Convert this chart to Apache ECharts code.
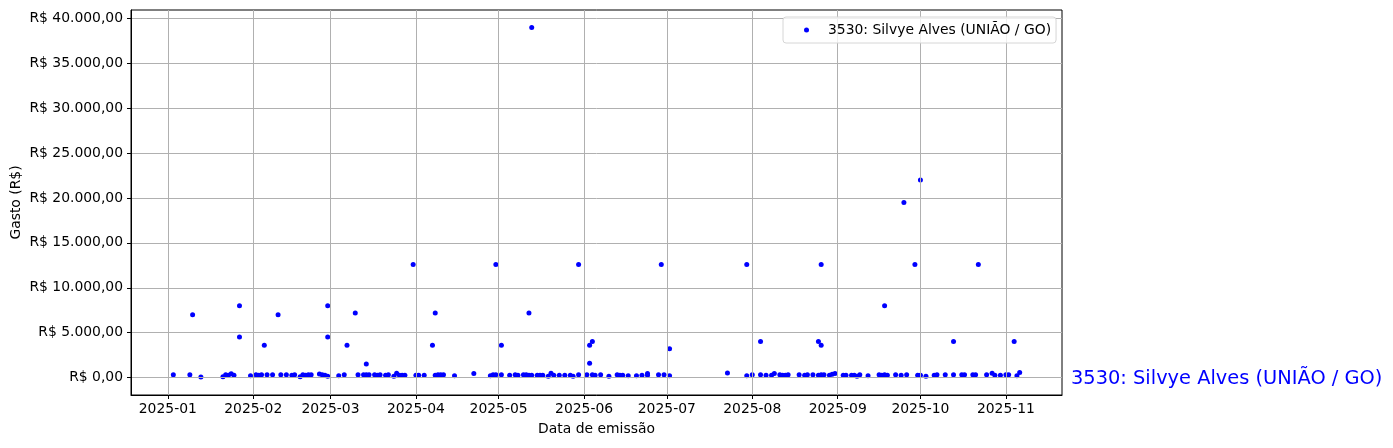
<!DOCTYPE html>
<html>
<head>
<meta charset="utf-8">
<script src="https://cdn.jsdelivr.net/npm/echarts@6/dist/echarts.min.js"></script>
<style>
html,body{margin:0;padding:0;background:#fff;}
#chart{width:1393px;height:448px;}
</style>
</head>
<body>
<div id="chart"></div>
<script>
const seriesName = '3530: Silvye Alves (UNIÃO / GO)';
const emissionDates = [
'2025-01-03','2025-01-09','2025-01-10','2025-01-13','2025-01-21','2025-01-22','2025-01-23','2025-01-24','2025-01-25','2025-01-27','2025-01-27','2025-01-31',
'2025-02-02','2025-02-03','2025-02-04','2025-02-05','2025-02-06','2025-02-08','2025-02-10','2025-02-11','2025-02-13','2025-02-15','2025-02-16','2025-02-18','2025-02-19','2025-02-20','2025-02-21','2025-02-22','2025-02-25','2025-02-26','2025-02-27','2025-02-28','2025-02-28','2025-02-28',
'2025-03-04','2025-03-06','2025-03-07','2025-03-10','2025-03-11','2025-03-13','2025-03-14','2025-03-14','2025-03-15','2025-03-17','2025-03-18','2025-03-19','2025-03-21','2025-03-22','2025-03-24','2025-03-25','2025-03-26','2025-03-27','2025-03-28','2025-03-31',
'2025-04-01','2025-04-02','2025-04-04','2025-04-07','2025-04-08','2025-04-08','2025-04-09','2025-04-10','2025-04-11','2025-04-15','2025-04-22','2025-04-28','2025-04-29','2025-04-30','2025-04-30',
'2025-05-02','2025-05-02','2025-05-05','2025-05-07','2025-05-08','2025-05-10','2025-05-11','2025-05-12','2025-05-12','2025-05-13','2025-05-13','2025-05-15','2025-05-16','2025-05-17','2025-05-19','2025-05-20','2025-05-21','2025-05-23','2025-05-25','2025-05-27','2025-05-28','2025-05-30','2025-05-30',
'2025-06-02','2025-06-03','2025-06-03','2025-06-04','2025-06-04','2025-06-05','2025-06-07','2025-06-10','2025-06-13','2025-06-14','2025-06-15','2025-06-17','2025-06-20','2025-06-22','2025-06-24','2025-06-24','2025-06-28','2025-06-29','2025-06-30',
'2025-07-02','2025-07-02','2025-07-23','2025-07-30','2025-07-30',
'2025-08-01','2025-08-04','2025-08-04','2025-08-06','2025-08-08','2025-08-09','2025-08-11','2025-08-12','2025-08-13','2025-08-14','2025-08-18','2025-08-20','2025-08-21','2025-08-23','2025-08-25','2025-08-25','2025-08-26','2025-08-26','2025-08-26','2025-08-27','2025-08-29','2025-08-30','2025-08-31',
'2025-09-03','2025-09-04','2025-09-06','2025-09-07','2025-09-08','2025-09-09','2025-09-12','2025-09-16','2025-09-17','2025-09-18','2025-09-18','2025-09-19','2025-09-22','2025-09-24','2025-09-25','2025-09-26','2025-09-29','2025-09-30',
'2025-10-01','2025-10-01','2025-10-03','2025-10-06','2025-10-07','2025-10-10','2025-10-13','2025-10-13','2025-10-16','2025-10-17','2025-10-20','2025-10-21','2025-10-22','2025-10-25','2025-10-27','2025-10-28','2025-10-30',
'2025-11-01','2025-11-02','2025-11-04','2025-11-05','2025-11-06'
];
const amounts = [
300,300,7000,60,80,300,250,420,250,8000,4500,200,
300,250,300,3600,300,300,7000,300,300,250,300,80,300,250,300,300,400,300,250,150,8000,4500,
200,300,3600,7200,300,300,1500,300,300,300,250,300,250,300,150,480,250,250,250,12600,
250,250,250,3600,7200,250,300,300,300,200,450,200,300,12600,300,
300,3600,250,300,250,300,300,7200,250,39000,250,250,250,250,150,480,250,250,250,250,150,12600,300,
300,3600,1600,4000,300,250,300,150,300,250,250,200,200,250,450,250,300,12600,300,
3200,200,500,200,12600,
300,4000,300,250,250,450,300,250,250,300,300,250,300,300,4000,250,12600,3600,300,300,250,350,450,
250,250,250,250,150,300,200,300,250,8000,300,250,300,250,19500,300,12600,250,
250,22000,150,250,300,300,4000,300,300,300,300,300,12600,300,480,250,250,
300,300,4000,200,550
];
const yTicks = [0,5000,10000,15000,20000,25000,30000,35000,40000];
const xTickMonths = ['2025-01','2025-02','2025-03','2025-04','2025-05','2025-06','2025-07','2025-08','2025-09','2025-10','2025-11'];

function parseDay(s){const p=s.split('-').map(Number);return Date.UTC(p[0],p[1]-1,p[2]||1);}
function brl(v){
  const neg=v<0; v=Math.abs(v);
  const fixed=v.toFixed(2).split('.');
  const intp=fixed[0].replace(/\B(?=(\d{3})+(?!\d))/g,'.');
  return 'R$ '+(neg?'-':'')+intp+','+fixed[1];
}
const pts = emissionDates.map((d,i)=>[parseDay(d),amounts[i]]);
const ts = pts.map(p=>p[0]);
const xMinD = Math.min(...ts), xMaxD = Math.max(...ts);
const xPad = (xMaxD-xMinD)*0.05;
const yMinD = 0, yMaxD = Math.max(...amounts);
const yPad = (yMaxD-yMinD)*0.05;
const xTickVals = xTickMonths.map(parseDay);

const FONT = 'DejaVu Sans';
const chart = echarts.init(document.getElementById('chart'),null,{renderer:'canvas'});
chart.setOption({
  animation:false,
  backgroundColor:'#fff',
  textStyle:{fontFamily:FONT},
  grid:{left:131,top:10,width:931,height:385,containLabel:false,outerBoundsMode:'none',
        show:true,borderColor:'#000',borderWidth:1,backgroundColor:'transparent'},
  legend:{
    show:true,left:783,top:17,orient:'vertical',
    padding:[6,5,6,21],itemWidth:5,itemHeight:5,
    borderColor:'#d6d6d6',borderWidth:1,borderRadius:3,backgroundColor:'rgba(255,255,255,0.8)',
    textStyle:{fontFamily:FONT,fontSize:13.9,color:'#000',padding:[0,0,0,14]},
    data:[{name:seriesName,icon:'circle'}]
  },
  xAxis:{
    type:'value',min:xMinD-xPad,max:xMaxD+xPad,z:3,
    name:'Data de emissão',nameLocation:'middle',nameGap:27,
    nameTextStyle:{fontFamily:FONT,fontSize:13.9,color:'#000'},
    axisLine:{show:true,onZero:false,lineStyle:{color:'#000',width:1}},
    axisTick:{show:true,length:4,lineStyle:{color:'#000'},customValues:xTickVals},
    axisLabel:{customValues:xTickVals,margin:7,fontFamily:FONT,fontSize:13.9,color:'#000',
      formatter:function(v){const d=new Date(v);return d.getUTCFullYear()+'-'+String(d.getUTCMonth()+1).padStart(2,'0');}},
    splitLine:{show:true,lineStyle:{color:'#b0b0b0',width:1}}
  },
  yAxis:{
    type:'value',min:yMinD-yPad,max:yMaxD+yPad,z:3,
    name:'Gasto (R$)',nameLocation:'middle',nameGap:108,nameRotate:90,nameMoveOverlap:false,
    nameTextStyle:{fontFamily:FONT,fontSize:13.9,color:'#000'},
    axisLine:{show:true,onZero:false,lineStyle:{color:'#000',width:1}},
    axisTick:{show:true,length:4,lineStyle:{color:'#000'},customValues:yTicks},
    axisLabel:{customValues:yTicks,margin:8,fontFamily:FONT,fontSize:13.9,color:'#000',formatter:brl},
    splitLine:{show:true,lineStyle:{color:'#b0b0b0',width:1}}
  },
  graphic:[{type:'text',left:1071,top:369,style:{text:seriesName,fill:'#0000ff',font:'19.4px "DejaVu Sans"'}}],
  series:[{
    name:seriesName,type:'scatter',symbol:'circle',symbolSize:5,
    itemStyle:{color:'#0000ff',opacity:1},
    data:pts
  }]
});
</script>
</body>
</html>
